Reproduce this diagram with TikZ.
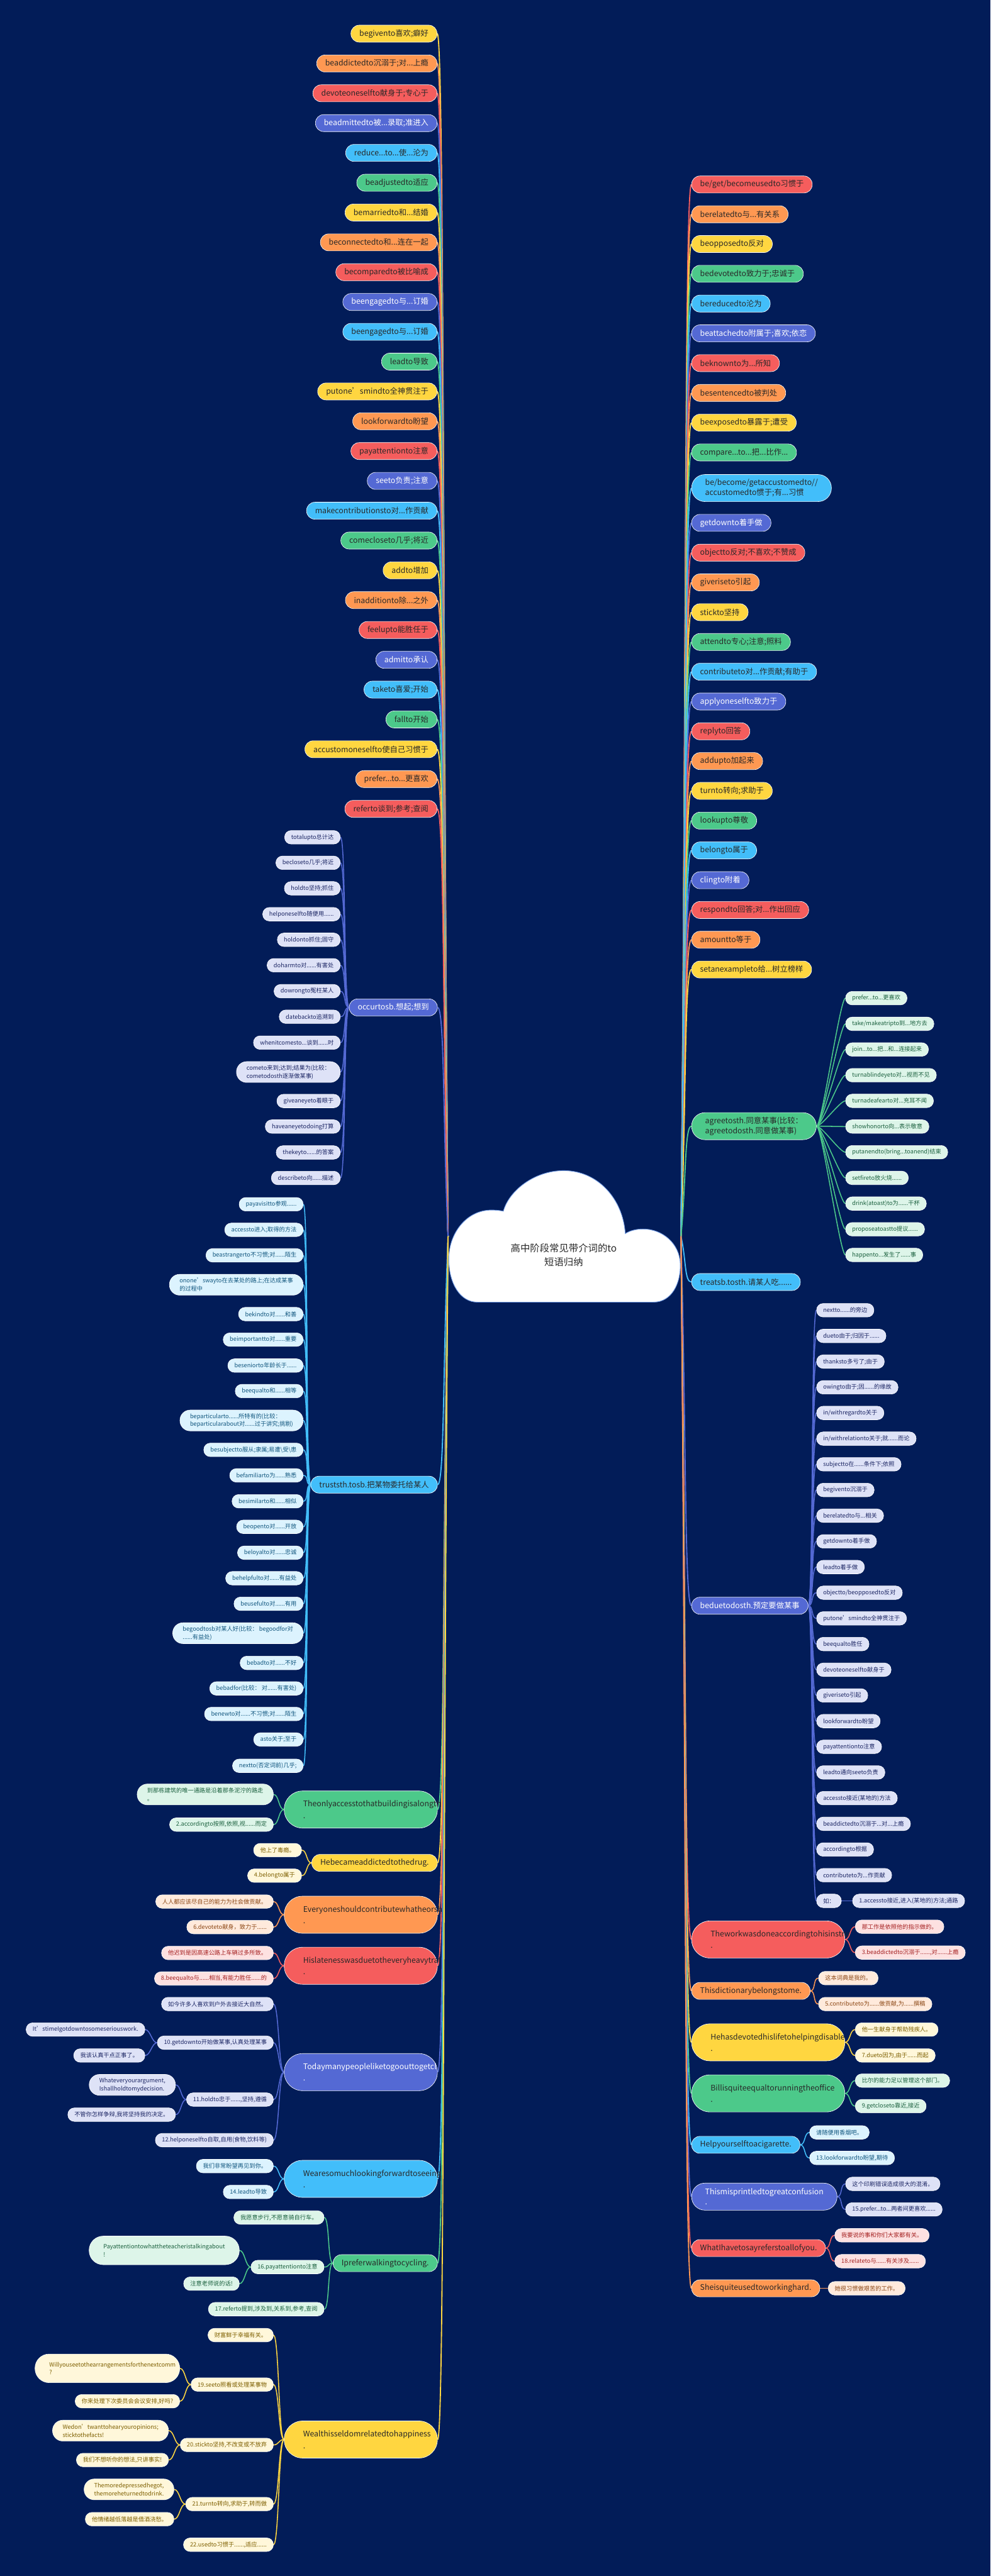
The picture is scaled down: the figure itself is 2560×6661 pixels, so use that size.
\documentclass[tikz,border=0pt]{standalone}
\usepackage{fontspec}
\setmainfont{Noto Sans CJK SC}
\usetikzlibrary{calc}
\pgfdeclarelayer{bottom}
\pgfdeclarelayer{edges}
\pgfsetlayers{bottom,edges,main}
\definecolor{bgc}{RGB}{2,28,88}
\definecolor{cY}{RGB}{255,214,64}
\definecolor{cO}{RGB}{255,152,82}
\definecolor{cR}{RGB}{245,93,93}
\definecolor{cB}{RGB}{84,105,212}
\definecolor{cC}{RGB}{66,190,250}
\definecolor{cG}{RGB}{76,201,138}
\definecolor{lY}{RGB}{255,247,218}
\definecolor{lO}{RGB}{255,234,220}
\definecolor{lR}{RGB}{253,225,225}
\definecolor{lB}{RGB}{222,226,247}
\definecolor{lC}{RGB}{220,243,254}
\definecolor{lG}{RGB}{221,245,233}
\definecolor{tY}{RGB}{125,95,0}
\definecolor{tO}{RGB}{140,72,22}
\definecolor{tR}{RGB}{165,32,32}
\definecolor{tB}{RGB}{28,38,100}
\definecolor{tC}{RGB}{16,86,126}
\definecolor{tG}{RGB}{26,96,62}
\definecolor{dk}{RGB}{40,40,40}
\definecolor{cloudline}{RGB}{120,160,230}
\newcommand\fsA{\fontsize{20pt}{30pt}\selectfont}
\newcommand\fsAt{\fontsize{20pt}{26pt}\selectfont}
\newcommand\fsB{\fontsize{15pt}{21pt}\selectfont}
\newcommand\fsR{\fontsize{25pt}{35pt}\selectfont}
\newcommand\ddd{.\kern0pt.\kern0pt.}
\tikzset{
 nb/.style={rectangle,draw=white,line width=1pt,inner ysep=0pt,align=center},
 p1/.style={nb,minimum height=44pt,rounded corners=21.5pt,inner xsep=22pt,font=\fsA},
 p1two/.style={nb,minimum height=70pt,rounded corners=34.5pt,inner xsep=35pt,align=left,font=\fsAt},
 big/.style={nb,minimum height=96pt,rounded corners=47.5pt,inner xsep=49pt,text width=298pt,align=left,font=\fsA},
 p2/.style={nb,minimum height=35pt,rounded corners=17pt,inner xsep=17pt,font=\fsB},
 p2two/.style={nb,minimum height=54pt,rounded corners=26.5pt,inner xsep=26pt,align=left,font=\fsB},
 p2three/.style={nb,minimum height=74pt,rounded corners=36.5pt,inner xsep=37pt,align=left,font=\fsB},
 sY/.style={fill=cY,text=dk}, sO/.style={fill=cO,text=dk}, sR/.style={fill=cR,text=dk},
 sB/.style={fill=cB,text=white}, sC/.style={fill=cC,text=dk}, sG/.style={fill=cG,text=dk},
 kY/.style={fill=lY,text=tY}, kO/.style={fill=lO,text=tO}, kR/.style={fill=lR,text=tR},
 kB/.style={fill=lB,text=tB}, kC/.style={fill=lC,text=tC}, kG/.style={fill=lG,text=tG},
 trunk/.style={line width=3pt},
 edge/.style={line width=2.5pt},
 hvR/.style={to path={.. controls ($(\tikztostart)+(#1,0)$) and ($(\tikztotarget)+(-#1,0)$) .. (\tikztotarget)}},
 hvL/.style={to path={.. controls ($(\tikztostart)+(-#1,0)$) and ($(\tikztotarget)+(#1,0)$) .. (\tikztotarget)}},
 trR/.style={to path={.. controls ($(\tikztostart)!0.5!(\tikztotarget)$) and ($(\tikztotarget)+(-18,0)$) .. (\tikztotarget)}},
 trL/.style={to path={.. controls ($(\tikztostart)!0.5!(\tikztotarget)$) and ($(\tikztotarget)+(18,0)$) .. (\tikztotarget)}},
}
\begin{document}
\begin{tikzpicture}[x=1pt,y=-1pt]
\useasboundingbox (0,0) rectangle (2560,6661);
\begin{pgfonlayer}{bottom}
\fill[bgc] (0,0) rectangle (2560,6661);
\end{pgfonlayer}

% ---------- root cloud ----------
\fill[white,draw=cloudline,line width=1.5pt] (1234,3367) -- (1689,3367)
 .. controls (1735,3367) and (1760,3320) .. (1758,3267)
 .. controls (1756,3215) and (1712,3178) .. (1662,3178)
 .. controls (1645,3178) and (1628,3182) .. (1616,3190)
 .. controls (1610,3100) and (1545,3027) .. (1457,3027)
 .. controls (1380,3027) and (1315,3080) .. (1301,3132)
 .. controls (1292,3130) and (1282,3129) .. (1270,3129)
 .. controls (1205,3129) and (1160,3190) .. (1160,3255)
 .. controls (1160,3320) and (1190,3367) .. (1234,3367) -- cycle;
\node[font=\fsR,text=dk,align=center] (root) at (1457,3245) {高中阶段常见带介词的to\\短语归纳};
\coordinate (rootL) at (1158,3197);
\coordinate (rootR) at (1760,3197);

% ---------- left top group ----------
\foreach \txt/\c [count=\i from 0] in {
{begivento喜欢;癖好}/Y,{beaddictedto沉溺于;对\ddd 上瘾}/O,{devoteoneselfto献身于;专心于}/R,
{beadmittedto被\ddd 录取;准进入}/B,{reduce\ddd to\ddd 使\ddd 沦为}/C,{beadjustedto适应}/G,
{bemarriedto和\ddd 结婚}/Y,{beconnectedto和\ddd 连在一起}/O,{becomparedto被比喻成}/R,
{beengagedto与\ddd 订婚}/B,{beengagedto与\ddd 订婚}/C,{leadto导致}/G,
{putone’smindto全神贯注于}/Y,{lookforwardto盼望}/O,{payattentionto注意}/R,
{seeto负责;注意}/B,{makecontributionsto对\ddd 作贡献}/C,{comecloseto几乎;将近}/G,
{addto增加}/Y,{inadditionto除\ddd 之外}/O,{feelupto能胜任于}/R,
{admitto承认}/B,{taketo喜爱;开始}/C,{fallto开始}/G,
{accustomoneselfto使自己习惯于}/Y,{prefer\ddd to\ddd 更喜欢}/O,{referto谈到;参考;查阅}/R}{
 \node[p1,s\c,anchor=east] (L\i) at (1130,{87+77.1*\i}) {\txt};
 \begin{pgfonlayer}{edges}\draw[trunk,c\c] (rootL) to[trL] (L\i.east);\end{pgfonlayer}
}

% ---------- occurtosb ----------
\node[p1,sB,anchor=east] (oc) at (1131,2605) {occurtosb.想起;想到};
\foreach \txt/\yy/\st [count=\i] in {
{totalupto总计达}/2165/p2,{becloseto几乎;将近}/2231/p2,{holdto坚持;抓住}/2297/p2,
{helponeselfto随便用\ddd\ddd}/2364/p2,{holdonto抓住;固守}/2430/p2,{doharmto对\ddd\ddd 有害处}/2496/p2,
{dowrongto冤枉某人}/2563/p2,{datebackto追溯到}/2629/p2,{whenitcomesto\ddd 谈到\ddd\ddd 时}/2696/p2,
{cometo来到;达到;结果为(比较：\\cometodosth逐渐做某事)}/2772/p2two,
{giveaneyeto着眼于}/2847/p2,{haveaneyetodoing打算}/2913/p2,{thekeyto\ddd\ddd 的答案}/2980/p2,
{describeto向\ddd\ddd 描述}/3046/p2}{
 \node[\st,kB,anchor=east] (oc\i) at (880,\yy) {\txt};
 \begin{pgfonlayer}{edges}\draw[edge,cB] (oc.west) to[hvL=14] (oc\i.east);\end{pgfonlayer}
}

% ---------- truststh ----------
\node[p1,sC,anchor=east] (tr) at (1131,3839) {truststh.tosb.把某物委托给某人};
\foreach \txt/\yy/\st [count=\i] in {
{payavisitto参观\ddd\ddd}/3114/p2,{accessto进入;取得的方法}/3180/p2,{beastrangerto不习惯;对\ddd\ddd 陌生}/3246/p2,
{onone’swayto在去某处的路上;在达成某事\\的过程中}/3322/p2two,
{bekindto对\ddd\ddd 和善}/3398/p2,{beimportantto对\ddd\ddd 重要}/3464/p2,{beseniorto年龄长于\ddd\ddd}/3531/p2,
{beequalto和\ddd\ddd 相等}/3597/p2,
{beparticularto\ddd\ddd 所特有的(比较：\\beparticularabout对\ddd\ddd 过于讲究;挑剔)}/3673/p2two,
{besubjectto服从;隶属;易遭\textbackslash 受\textbackslash 患}/3749/p2,{befamiliarto为\ddd\ddd 熟悉}/3815/p2,
{besimilarto和\ddd\ddd 相似}/3882/p2,{beopento对\ddd\ddd 开放}/3948/p2,{beloyalto对\ddd\ddd 忠诚}/4015/p2,
{behelpfulto对\ddd\ddd 有益处}/4081/p2,{beusefulto对\ddd\ddd 有用}/4147/p2,
{begoodtosb对某人好(比较： begoodfor对\\\ddd\ddd 有益处)}/4223/p2two,
{bebadto对\ddd\ddd 不好}/4300/p2,{bebadfor(比较： 对\ddd\ddd 有害处)}/4366/p2,
{benewto对\ddd\ddd 不习惯;对\ddd\ddd 陌生}/4432/p2,{asto关于;至于}/4498/p2,{nextto(否定词前)几乎;}/4566/p2}{
 \node[\st,kC,anchor=east] (tr\i) at (784,\yy) {\txt};
 \begin{pgfonlayer}{edges}\draw[edge,cC] (tr.west) to[hvL=14] (tr\i.east);\end{pgfonlayer}
}

% ---------- left sentence nodes ----------
\node[big,sG,anchor=east] (s1) at (1131,4679) {\makebox[0pt][l]{Theonlyaccesstothatbuildingisalongth}\\.};
\node[p2two,kG,anchor=east] (s1a) at (707,4640) {到那栋建筑的唯一通路是沿着那条泥泞的路走\\。};
\node[p2,kG,anchor=east] (s1b) at (707,4718) {2.accordingto按照,依照,视......而定};

\node[p1,sY,anchor=east] (s2) at (1131,4817) {Hebecameaddictedtothedrug.};
\node[p2,kY,anchor=east] (s2a) at (780,4784) {他上了毒瘾。};
\node[p2,kY,anchor=east] (s2b) at (780,4850) {4.belongto属于};

\node[big,sO,anchor=east] (s3) at (1131,4951) {\makebox[0pt][l]{Everyoneshouldcontributewhatheorsh}\\.};
\node[p2,kO,anchor=east] (s3a) at (707,4917) {人人都应该尽自己的能力为社会做贡献。};
\node[p2,kO,anchor=east] (s3b) at (707,4983) {6.devoteto献身，致力于......};

\node[big,sR,anchor=east] (s4) at (1131,5083) {\makebox[0pt][l]{Hislatenesswasduetotheveryheavytraf}\\.};
\node[p2,kR,anchor=east] (s4a) at (707,5050) {他迟到是因高速公路上车辆过多所致。};
\node[p2,kR,anchor=east] (s4b) at (707,5116) {8.beequalto与......相当,有能力胜任......的};

\node[big,sB,anchor=east] (s5) at (1131,5358) {\makebox[0pt][l]{Todaymanypeopleliketogoouttogetcl}\\.};
\node[p2,kB,anchor=east] (s5a) at (707,5182) {如今许多人喜欢到户外去接近大自然。};
\node[p2,kB,anchor=east] (s5b) at (707,5282) {10.getdownto开始做某事,认真处理某事};
\node[p2,kB,anchor=east] (s5b1) at (375,5248) {It’stimeIgotdowntosomeseriouswork.};
\node[p2,kB,anchor=east] (s5b2) at (375,5315) {我该认真干点正事了。};
\node[p2,kB,anchor=east] (s5c) at (707,5429) {11.holdto忠于......,坚持,遵循};
\node[p2two,kB,anchor=east] (s5c1) at (454,5391) {Whateveryourargument,\\Ishallholdtomydecision.};
\node[p2,kB,anchor=east] (s5c2) at (454,5468) {不管你怎样争辩,我将坚持我的决定。};
\node[p2,kB,anchor=east] (s5d) at (707,5534) {12.helponeselfto自取,自用(食物,饮料等)};

\node[big,sC,anchor=east] (s6) at (1131,5634) {\makebox[0pt][l]{Wearesomuchlookingforwardtoseeing}\\.};
\node[p2,kC,anchor=east] (s6a) at (707,5601) {我们非常盼望再见到你。};
\node[p2,kC,anchor=east] (s6b) at (707,5668) {14.leadto导致};

\node[p1,sG,anchor=east] (s7) at (1131,5852) {Ipreferwalkingtocycling.};
\node[p2,kG,anchor=east] (s7a) at (838,5734) {我愿意步行,不愿意骑自行车。};
\node[p2,kG,anchor=east] (s7b) at (838,5862) {16.payattentionto注意};
\node[p2three,kG,anchor=east] (s7b1) at (619,5819) {Payattentiontowhattheteacheristalkingabout\\!};
\node[p2,kG,anchor=east] (s7b2) at (619,5905) {注意老师说的话!};
\node[p2,kG,anchor=east] (s7c) at (838,5971) {17.referto提到,涉及到,关系到,参考,查阅};

\node[big,sY,anchor=east] (s8) at (1131,6308) {\makebox[0pt][l]{Wealthisseldomrelatedtohappiness}\\.};
\node[p2,kY,anchor=east] (s8a) at (707,6038) {财富鲜于幸福有关。};
\node[p2,kY,anchor=east] (s8b) at (707,6166) {19.seeto照看或处理某事物};
\node[p2three,kY,anchor=east,text width=300pt] (s8b1) at (465,6124) {Willyouseetothearrangementsforthenextcomm\\?};
\node[p2,kY,anchor=east] (s8b2) at (465,6209) {你来处理下次委员会会议安排,好吗?};
\node[p2,kY,anchor=east] (s8c) at (707,6322) {20.stickto坚持,不改变或不放弃};
\node[p2two,kY,anchor=east] (s8c1) at (436,6285) {Wedon’twanttohearyouropinions;\\sticktothefacts!};
\node[p2,kY,anchor=east] (s8c2) at (436,6361) {我们不想听你的想法,只讲事实!};
\node[p2,kY,anchor=east] (s8d) at (707,6475) {21.turnto转向,求助于,转而做};
\node[p2two,kY,anchor=east] (s8d1) at (450,6437) {Themoredepressedhegot,\\themoreheturnedtodrink.};
\node[p2,kY,anchor=east] (s8d2) at (450,6514) {他情绪越低落越是借酒浇愁。};
\node[p2,kY,anchor=east] (s8e) at (707,6580) {22.usedto习惯于......,适应......};

% ---------- right top group ----------
\foreach \txt/\c/\yy [count=\i] in {
{be/get/becomeusedto习惯于}/R/477,{berelatedto与\ddd 有关系}/O/554,{beopposedto反对}/Y/631,
{bedevotedto致力于;忠诚于}/G/708,{bereducedto沦为}/C/785,{beattachedto附属于;喜欢;依恋}/B/862,
{beknownto为\ddd 所知}/R/939,{besentencedto被判处}/O/1016,{beexposedto暴露于;遭受}/Y/1093,
{compare\ddd to\ddd 把\ddd 比作\ddd}/G/1170}{
 \node[p1,s\c,anchor=west] (R\i) at (1787,\yy) {\txt};
 \begin{pgfonlayer}{edges}\draw[trunk,c\c] (rootR) to[trR] (R\i.west);\end{pgfonlayer}
}
\node[p1two,sC,anchor=west] (R11) at (1787,1262) {be/become/getaccustomedto//\\accustomedto惯于;有...习惯};
\foreach \txt/\c/\yy [count=\i from 12] in {
{getdownto着手做}/B/1352,{objectto反对;不喜欢;不赞成}/R/1429,{giveriseto引起}/O/1506,
{stickto坚持}/Y/1583,{attendto专心;注意;照料}/G/1660,{contributeto对\ddd 作贡献;有助于}/C/1737,
{applyoneselfto致力于}/B/1814,{replyto回答}/R/1891,{addupto加起来}/O/1968,
{turnto转向;求助于}/Y/2045,{lookupto尊敬}/G/2122,{belongto属于}/C/2199,
{clingto附着}/B/2276,{respondto回答;对\ddd 作出回应}/R/2353,{amountto等于}/O/2430,
{setanexampleto给\ddd 树立榜样}/Y/2507}{
 \node[p1,s\c,anchor=west] (R\i) at (1787,\yy) {\txt};
 \begin{pgfonlayer}{edges}\draw[trunk,c\c] (rootR) to[trR] (R\i.west);\end{pgfonlayer}
}

% ---------- agreetosth ----------
\node[p1two,sG,anchor=west] (ag) at (1787,2912) {agreetosth.同意某事(比较：\\agreetodosth.同意做某事)};
\foreach \txt [count=\i] in {
{prefer\ddd to\ddd 更喜欢},{take/makeatripto到\ddd 地方去},{join\ddd to\ddd 把\ddd 和\ddd 连接起来},
{turnablindeyeto对\ddd 视而不见},{turnadeafearto对\ddd 充耳不闻},{showhonorto向\ddd 表示敬意},
{putanendto(bring\ddd toanend)结束},{setfireto放火烧\ddd\ddd},{drink(atoast)to为\ddd\ddd 干杯},
{proposeatoastto提议\ddd\ddd},{happento\ddd 发生了\ddd\ddd 事}}{
 \node[p2,kG,anchor=west] (ag\i) at (2185,{2581+66.4*(\i-1)}) {\txt};
 \begin{pgfonlayer}{edges}\draw[edge,cG] (ag.east) to[hvR=14] (ag\i.west);\end{pgfonlayer}
}

\node[p1,sC,anchor=west] (tb) at (1787,3315) {treatsb.tosth.请某人吃......};

% ---------- beduetodosth ----------
\node[p1,sB,anchor=west] (bd) at (1787,4152) {beduetodosth.预定要做某事};
\foreach \txt [count=\i] in {
{nextto\ddd\ddd 的旁边},{dueto由于;归因于\ddd\ddd},{thanksto多亏了;由于},{owingto由于;因\ddd\ddd 的缘故},
{in/withregardto关于},{in/withrelationto关于;就\ddd\ddd 而论},{subjectto在\ddd\ddd 条件下;依照},
{begivento沉溺于},{berelatedto与\ddd 相关},{getdownto着手做},{leadto着手做},
{objectto/beopposedto反对},{putone’smindto全神贯注于},{beequalto胜任},{devoteoneselfto献身于},
{giveriseto引起},{lookforwardto盼望},{payattentionto注意},{leadto通向seeto负责},
{accessto接近(某地的)方法},{beaddictedto沉溺于\ddd 对\ddd 上瘾},{accordingto根据},
{contributeto为\ddd 作贡献},{如：}}{
 \node[p2,kB,anchor=west] (bd\i) at (2110,{3388+66.4*(\i-1)}) {\txt};
 \begin{pgfonlayer}{edges}\draw[edge,cB] (bd.east) to[hvR=14] (bd\i.west);\end{pgfonlayer}
}
\node[p2,kB,anchor=west] (bd24a) at ($(bd24.east)+(28,0)$) {1.accessto接近,进入(某地的)方法;通路};

% ---------- right sentence nodes ----------
\node[big,sR,anchor=west] (t1) at (1787,5015) {\makebox[0pt][l]{Theworkwasdoneaccordingtohisinstru}\\.};
\node[p2,kR,anchor=west] (t1a) at (2210,4982) {那工作是依照他的指示做的。};
\node[p2,kR,anchor=west] (t1b) at (2210,5049) {3.beaddictedto沉溺于......,对......上瘾};

\node[p1,sO,anchor=west] (t2) at (1787,5148) {Thisdictionarybelongstome.};
\node[p2,kO,anchor=west] (t2a) at (2115,5115) {这本词典是我的。};
\node[p2,kO,anchor=west] (t2b) at (2115,5182) {5.contributeto为......做贡献,为......撰稿};

\node[big,sY,anchor=west] (t3) at (1787,5281) {\makebox[0pt][l]{Hehasdevotedhislifetohelpingdisable}\\.};
\node[p2,kY,anchor=west] (t3a) at (2210,5248) {他一生献身于帮助残疾人。};
\node[p2,kY,anchor=west] (t3b) at (2210,5315) {7.dueto因为,由于......而起};

\node[big,sG,anchor=west] (t4) at (1787,5413) {\makebox[0pt][l]{Billisquiteequaltorunningtheoffice}\\.};
\node[p2,kG,anchor=west] (t4a) at (2210,5380) {比尔的能力足以管理这个部门。};
\node[p2,kG,anchor=west] (t4b) at (2210,5446) {9.getcloseto靠近,接近};

\node[p1,sC,anchor=west] (t5) at (1787,5546) {Helpyourselftoacigarette.};
\node[p2,kC,anchor=west] (t5a) at (2092,5514) {请随便用香烟吧。};
\node[p2,kC,anchor=west] (t5b) at (2092,5580) {13.lookforwardto盼望,期待};

\node[p1two,sB,anchor=west] (t6) at (1787,5680) {Thismisprintledtogreatconfusion\\.};
\node[p2,kB,anchor=west] (t6a) at (2185,5647) {这个印刷错误造成很大的混淆。};
\node[p2,kB,anchor=west] (t6b) at (2185,5713) {15.prefer...to...两者间更喜欢......};

\node[p1,sR,anchor=west] (t7) at (1787,5813) {WhatIhavetosayreferstoallofyou.};
\node[p2,kR,anchor=west] (t7a) at (2157,5780) {我要说的事和你们大家都有关。};
\node[p2,kR,anchor=west] (t7b) at (2157,5847) {18.relateto与......有关涉及......};

\node[p1,sO,anchor=west] (t8) at (1787,5917) {Sheisquiteusedtoworkinghard.};
\node[p2,kO,anchor=west] (t8a) at (2140,5917) {她很习惯做艰苦的工作。};

% ---------- edges ----------
\begin{pgfonlayer}{edges}
\foreach \n/\c in {oc/B,tr/C,s1/G,s2/Y,s3/O,s4/R,s5/B,s6/C,s7/G,s8/Y}
  \draw[trunk,c\c] (rootL) to[trL] (\n.east);
\foreach \n/\c in {R11/C,ag/G,tb/C,bd/B,t1/R,t2/O,t3/Y,t4/G,t5/C,t6/B,t7/R,t8/O}
  \draw[trunk,c\c] (rootR) to[trR] (\n.west);
\draw[edge,cB] (bd24.east) -- (bd24a.west);
\foreach \p/\k/\c in {s1/s1a/G,s1/s1b/G,s2/s2a/Y,s2/s2b/Y,s3/s3a/O,s3/s3b/O,s4/s4a/R,s4/s4b/R,
 s5/s5a/B,s5/s5b/B,s5/s5c/B,s5/s5d/B,s5b/s5b1/B,s5b/s5b2/B,s5c/s5c1/B,s5c/s5c2/B,
 s6/s6a/C,s6/s6b/C,s7/s7a/G,s7/s7b/G,s7/s7c/G,s7b/s7b1/G,s7b/s7b2/G,
 s8/s8a/Y,s8/s8b/Y,s8/s8c/Y,s8/s8d/Y,s8/s8e/Y,s8b/s8b1/Y,s8b/s8b2/Y,s8c/s8c1/Y,s8c/s8c2/Y,s8d/s8d1/Y,s8d/s8d2/Y}
  \draw[edge,c\c] (\p.west) to[hvL=14] (\k.east);
\foreach \p/\k/\c in {t1/t1a/R,t1/t1b/R,t2/t2a/O,t2/t2b/O,t3/t3a/Y,t3/t3b/Y,t4/t4a/G,t4/t4b/G,
 t5/t5a/C,t5/t5b/C,t6/t6a/B,t6/t6b/B,t7/t7a/R,t7/t7b/R}
  \draw[edge,c\c] (\p.east) to[hvR=14] (\k.west);
\draw[edge,cO] (t8.east) -- (t8a.west);
\end{pgfonlayer}
\end{tikzpicture}
\end{document}
